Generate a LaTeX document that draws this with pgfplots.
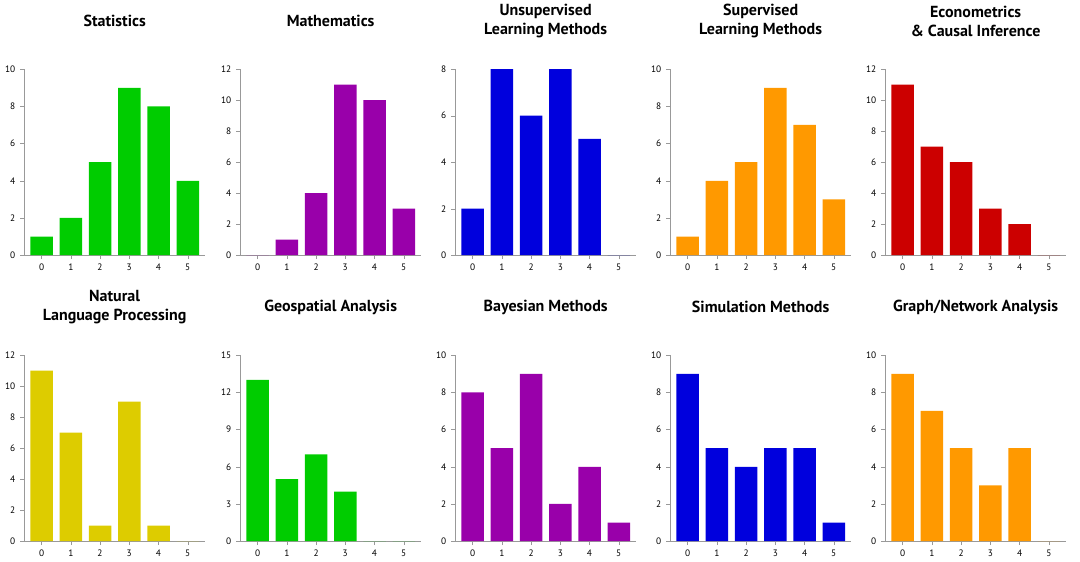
\documentclass[border=0pt]{standalone}
\usepackage{fontspec}
\setmainfont{PT Sans}
\usepackage{pgfplots}
\pgfplotsset{compat=1.18}
\definecolor{cg}{HTML}{00CC00}
\definecolor{cp}{HTML}{9900AA}
\definecolor{cb}{HTML}{0000DD}
\definecolor{co}{HTML}{FF9900}
\definecolor{cr}{HTML}{CC0000}
\definecolor{cy}{HTML}{DDCC00}
\pgfplotsset{
  panel/.style={scale only axis, width=136pt, height=139.5pt,
    axis x line*=bottom, axis y line*=left,
    axis line style={draw=gray!80, -}, tick style={draw=gray!80},
    tick align=outside, major tick length=3pt,
    xmin=-0.6, xmax=5.6, ymin=0, xtick={0,...,5},
    /pgf/number format/assume math mode=true,
    ticklabel style={font=\fontsize{7}{8}\selectfont},
    title style={at={(0.5,1)}, anchor=center, yshift=30pt, align=center, font=\fontsize{12}{14}\selectfont\bfseries},
    ybar, bar width=0.77, bar shift=0pt},
}
\newcommand{\pbar}[2]{\addplot[fill=#1, draw=none] coordinates {#2};}
\begin{document}
\begin{tikzpicture}
\path (0,0) rectangle (810pt,419.25pt);
% row 1
\begin{axis}[panel, at={(18pt,229.5pt)}, ymax=10, ytick={0,2,...,10}, title={Statistics}]
\pbar{cg}{(0,1)(1,2)(2,5)(3,9)(4,8)(5,4)}
\end{axis}
\begin{axis}[panel, at={(180pt,229.5pt)}, ymax=12, ytick={0,2,...,12}, title={Mathematics}]
\pbar{cp}{(0,0)(1,1)(2,4)(3,11)(4,10)(5,3)}
\end{axis}
\begin{axis}[panel, at={(341.25pt,229.5pt)}, ymax=8, ytick={0,2,...,8}, title={Unsupervised\\Learning Methods}]
\pbar{cb}{(0,2)(1,8)(2,6)(3,8)(4,5)(5,0)}
\end{axis}
\begin{axis}[panel, at={(502.5pt,229.5pt)}, ymax=10, ytick={0,2,...,10}, title={Supervised\\Learning Methods}]
\pbar{co}{(0,1)(1,4)(2,5)(3,9)(4,7)(5,3)}
\end{axis}
\begin{axis}[panel, at={(663.75pt,229.5pt)}, ymax=12, ytick={0,2,...,12}, title={Econometrics\\\& Causal Inference}]
\pbar{cr}{(0,11)(1,7)(2,6)(3,3)(4,2)(5,0)}
\end{axis}
% row 2
\begin{axis}[panel, at={(18pt,15pt)}, ymax=12, ytick={0,2,...,12}, title={Natural\\Language Processing}]
\pbar{cy}{(0,11)(1,7)(2,1)(3,9)(4,1)(5,0)}
\end{axis}
\begin{axis}[panel, at={(180pt,15pt)}, ymax=15, ytick={0,3,...,15}, title={Geospatial Analysis}]
\pbar{cg}{(0,13)(1,5)(2,7)(3,4)(4,0)(5,0)}
\end{axis}
\begin{axis}[panel, at={(341.25pt,15pt)}, ymax=10, ytick={0,2,...,10}, title={Bayesian Methods}]
\pbar{cp}{(0,8)(1,5)(2,9)(3,2)(4,4)(5,1)}
\end{axis}
\begin{axis}[panel, at={(502.5pt,15pt)}, ymax=10, ytick={0,2,...,10}, title={Simulation Methods}]
\pbar{cb}{(0,9)(1,5)(2,4)(3,5)(4,5)(5,1)}
\end{axis}
\begin{axis}[panel, at={(663.75pt,15pt)}, ymax=10, ytick={0,2,...,10}, title={Graph/Network Analysis}]
\pbar{co}{(0,9)(1,7)(2,5)(3,3)(4,5)(5,0)}
\end{axis}
\end{tikzpicture}
\end{document}
